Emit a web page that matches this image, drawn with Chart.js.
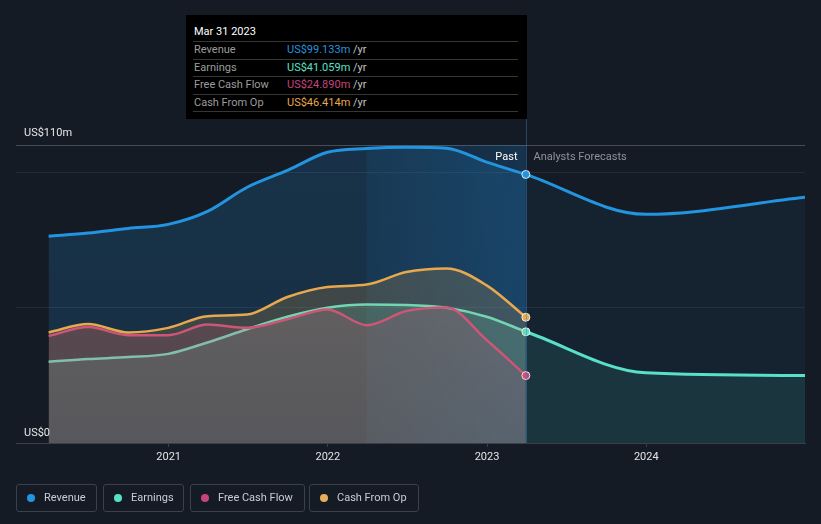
<!DOCTYPE html>
<html>
<head>
<meta charset="utf-8">
<script src="https://cdn.jsdelivr.net/npm/chart.js@4.4.0/dist/chart.umd.min.js"></script>
<style>
html,body{margin:0;padding:0;background:#151b25;width:821px;height:524px;overflow:hidden;font-family:Roboto,'Noto Sans',sans-serif;}
#wrap{position:relative;width:821px;height:524px;}
#c{position:absolute;left:0;top:0;}
#tip{position:absolute;top:15px;left:186px;width:341px;height:104px;background:#000;font-size:11px;color:#fff;}
#tip .title{position:absolute;left:8px;top:10px;line-height:13px;color:#fff;}
#tip .rows{position:absolute;left:7px;top:26px;width:325px;border-bottom:1px solid #363636;}
#tip .row{height:16.5px;line-height:16.5px;border-top:1px solid #363636;white-space:nowrap;}
#tip .lab{display:inline-block;width:93px;padding-left:1px;color:#9c9c9c;}
#tip .unit{color:#c4c4c4;}
.leg{position:absolute;top:484px;height:28px;box-sizing:border-box;border:1px solid #3b404a;border-radius:3px;font-size:11px;color:#c9cdd3;line-height:26px;white-space:nowrap;}
.leg i{position:absolute;left:10px;top:9px;width:8px;height:8px;border-radius:50%;}
.leg span{position:absolute;left:27px;top:0;}
</style>
</head>
<body>
<div id="wrap">
<canvas id="c" width="821" height="524"></canvas>
<div id="tip"></div>
<div id="legend"></div>
</div>
<script>
// ---- data ----
const pastDates = ['2020-03-31','2020-06-30','2020-09-30','2020-12-31','2021-03-31','2021-06-30','2021-09-30','2021-12-31','2022-03-31','2022-06-30','2022-09-30','2022-12-31','2023-03-31'];
const revenuePast  = [76.3, 77.5, 79.2, 80.7, 85.5, 94.4, 100.6, 107.3, 108.7, 109.2, 108.8, 103.7, 99.133];
const earningsPast = [30.0, 31.0, 31.7, 32.9, 37.1, 42.0, 46.6, 49.9, 51.1, 50.9, 49.9, 46.6, 41.059];
const fcfPast      = [39.5, 42.8, 39.8, 39.8, 43.7, 42.5, 45.7, 49.3, 43.5, 48.7, 50.0, 38.0, 24.890];
const cfoPast      = [40.8, 43.9, 40.8, 42.5, 46.8, 47.4, 53.9, 57.6, 58.5, 63.1, 64.4, 58.2, 46.414];
const forecastDates    = ['2023-03-31','2023-12-31','2024-12-31'];
const revenueForecast  = [99.133, 84.4, 90.7];
const earningsForecast = [41.059, 25.9, 24.9];
const seriesNames = ['Revenue','Earnings','Free Cash Flow','Cash From Op'];
const seriesColors = ['#2394df','#58e0c8','#c7437f','#e8a84e'];
const xTickYears = [2021, 2022, 2023, 2024];
const yTickValues = [0, 50, 100, 110];
const yLabelValues = [110, 0];
const xRange = ['2020-01-16','2024-12-31'];
const bandDates = ['2022-03-31','2023-03-31'];
const tooltipTitle = 'Mar 31 2023';

function toYear(s){
  const [y,m,d] = s.split('-').map(Number);
  const a = Date.UTC(y,0,1), b = Date.UTC(y+1,0,1);
  return y + (Date.UTC(y,m-1,d) - a) / (b - a);
}
function pts(dates, vals){ return dates.map((d,i)=>({x:toYear(d), y:vals[i]})); }
function rgba(hex, a){
  const n = parseInt(hex.slice(1),16);
  return `rgba(${n>>16&255},${n>>8&255},${n&255},${a})`;
}
function vGrad(hex, aTop, aBot){
  return (ctx)=>{
    const ch = ctx.chart, ar = ch.chartArea;
    if(!ar) return rgba(hex, aTop);
    const g = ch.ctx.createLinearGradient(0, ar.top, 0, ar.bottom);
    g.addColorStop(0, rgba(hex, aTop));
    g.addColorStop(1, rgba(hex, aBot));
    return g;
  };
}
const lastIdx = pastDates.length - 1;
function pastSet(i, vals, order, width, fillTop, fillBot){
  return {
    label: seriesNames[i],
    data: pts(pastDates, vals),
    borderColor: seriesColors[i],
    borderWidth: width,
    backgroundColor: vGrad(seriesColors[i], fillTop, fillBot),
    fill: 'origin',
    cubicInterpolationMode: 'monotone',
    order: order,
    pointRadius: (c)=> c.dataIndex === lastIdx ? 4 : 0,
    pointBackgroundColor: seriesColors[i],
    pointBorderColor: 'rgba(255,255,255,0.85)',
    pointBorderWidth: 1
  };
}
function fcSet(i, vals, order, width, fillA){
  return {
    label: seriesNames[i] + ' forecast',
    data: pts(forecastDates, vals),
    borderColor: seriesColors[i],
    borderWidth: width,
    backgroundColor: rgba(seriesColors[i], fillA),
    fill: 'origin',
    cubicInterpolationMode: 'monotone',
    order: order,
    pointRadius: 0
  };
}

const datasets = [
  pastSet(3, cfoPast, 1, 2.5, 0.22, 0.16),
  pastSet(2, fcfPast, 2, 2.5, 0.22, 0.16),
  pastSet(1, earningsPast, 3, 2.5, 0.22, 0.15),
  pastSet(0, revenuePast, 4, 3, 0.19, 0.17),
  fcSet(1, earningsForecast, 5, 3, 0.10),
  fcSet(0, revenueForecast, 6, 3, 0.06)
];

const deco = {
  id: 'deco',
  beforeDatasetsDraw(chart){
    const {ctx, chartArea:a, scales:{x}} = chart;
    const x0 = x.getPixelForValue(toYear(bandDates[0]));
    const x1 = x.getPixelForValue(toYear(bandDates[1]));
    ctx.save();
    const g = ctx.createLinearGradient(x0, 0, x1, 0);
    g.addColorStop(0, 'rgba(33,150,243,0.08)');
    g.addColorStop(1, 'rgba(33,150,243,0.20)');
    ctx.fillStyle = g;
    ctx.fillRect(x0, a.top, x1 - x0, a.bottom - a.top);
    ctx.restore();
  },
  afterDatasetsDraw(chart){
    const {ctx, chartArea:a, scales:{x,y}} = chart;
    const xp = Math.round(x.getPixelForValue(toYear(bandDates[1]))) + 0.5;
    ctx.save();
    ctx.strokeStyle = 'rgba(60,130,190,0.45)';
    ctx.lineWidth = 1;
    ctx.beginPath(); ctx.moveTo(xp, 119); ctx.lineTo(xp, a.bottom); ctx.stroke();
    ctx.font = '11px Roboto, "Noto Sans", sans-serif';
    ctx.textBaseline = 'alphabetic';
    ctx.textAlign = 'right'; ctx.fillStyle = '#ffffff';
    ctx.fillText('Past', xp - 9, a.top + 15);
    ctx.textAlign = 'left'; ctx.fillStyle = '#8d929a';
    ctx.fillText('Analysts Forecasts', xp + 7, a.top + 15);
    ctx.fillStyle = '#e6e6e6';
    ctx.fillText('US$' + yLabelValues[0] + 'm', a.left + 8, y.getPixelForValue(yLabelValues[0]) - 9);
    ctx.fillText('US$' + yLabelValues[1], a.left + 8, y.getPixelForValue(yLabelValues[1]) - 7);
    ctx.restore();
    const tip = document.getElementById('tip');
    tip.style.left = (xp + 0.5 - 341) + 'px';
  }
};

const chart = new Chart(document.getElementById('c'), {
  type: 'line',
  data: { datasets },
  plugins: [deco],
  options: {
    responsive: false,
    animation: false,
    events: [],
    layout: { padding: { left: 16, right: 16, top: 145, bottom: 51 } },
    plugins: { legend: { display: false }, tooltip: { enabled: false } },
    scales: {
      x: {
        type: 'linear',
        min: toYear(xRange[0]),
        max: toYear(xRange[1]),
        afterBuildTicks: (s)=>{ s.ticks = xTickYears.map(v=>({value:v})); },
        afterFit: (s)=>{ s.height = 30; },
        ticks: { autoSkip:false, maxRotation:0, padding: 4, color:'#e4e4e4', font:{family:'Roboto', size:11}, callback:(v)=>String(v) },
        grid: { drawOnChartArea:false, drawTicks:true, tickLength:4, color:'#3a3f48' },
        border: { display:true, color:'#3a3f48', width:1 }
      },
      y: {
        min: 0, max: 110,
        afterBuildTicks: (s)=>{ s.ticks = yTickValues.map(v=>({value:v})); },
        afterFit: (s)=>{ s.width = 0; },
        ticks: { display:false },
        border: { display:false },
        grid: { drawTicks:false, color:(c)=> c.tick.value === 110 ? '#464b54' : (c.tick.value === 0 ? 'rgba(0,0,0,0)' : '#252a34') }
      }
    }
  }
});

// tooltip box (HTML text)
const tipVals = [revenuePast[lastIdx], earningsPast[lastIdx], fcfPast[lastIdx], cfoPast[lastIdx]];
let html = '<div class="title">' + tooltipTitle + '</div><div class="rows">';
seriesNames.forEach((n,i)=>{
  html += '<div class="row"><span class="lab">' + n + '</span><span style="color:' + seriesColors[i] + '">US$' + tipVals[i].toFixed(3) + 'm</span> <span class="unit">/yr</span></div>';
});
html += '</div>';
document.getElementById('tip').innerHTML = html;

// legend (HTML)
const legLefts = [16, 103, 190, 309];
const legWidths = [81, 81, 115, 110];
const legColors = ['#2394df','#58e0c8','#c7437f','#e8ad5a'];
let lh = '';
seriesNames.forEach((n,i)=>{
  lh += '<div class="leg" style="left:' + legLefts[i] + 'px;width:' + legWidths[i] + 'px"><i style="background:' + legColors[i] + '"></i><span>' + n + '</span></div>';
});
document.getElementById('legend').innerHTML = lh;
</script>
</body>
</html>
